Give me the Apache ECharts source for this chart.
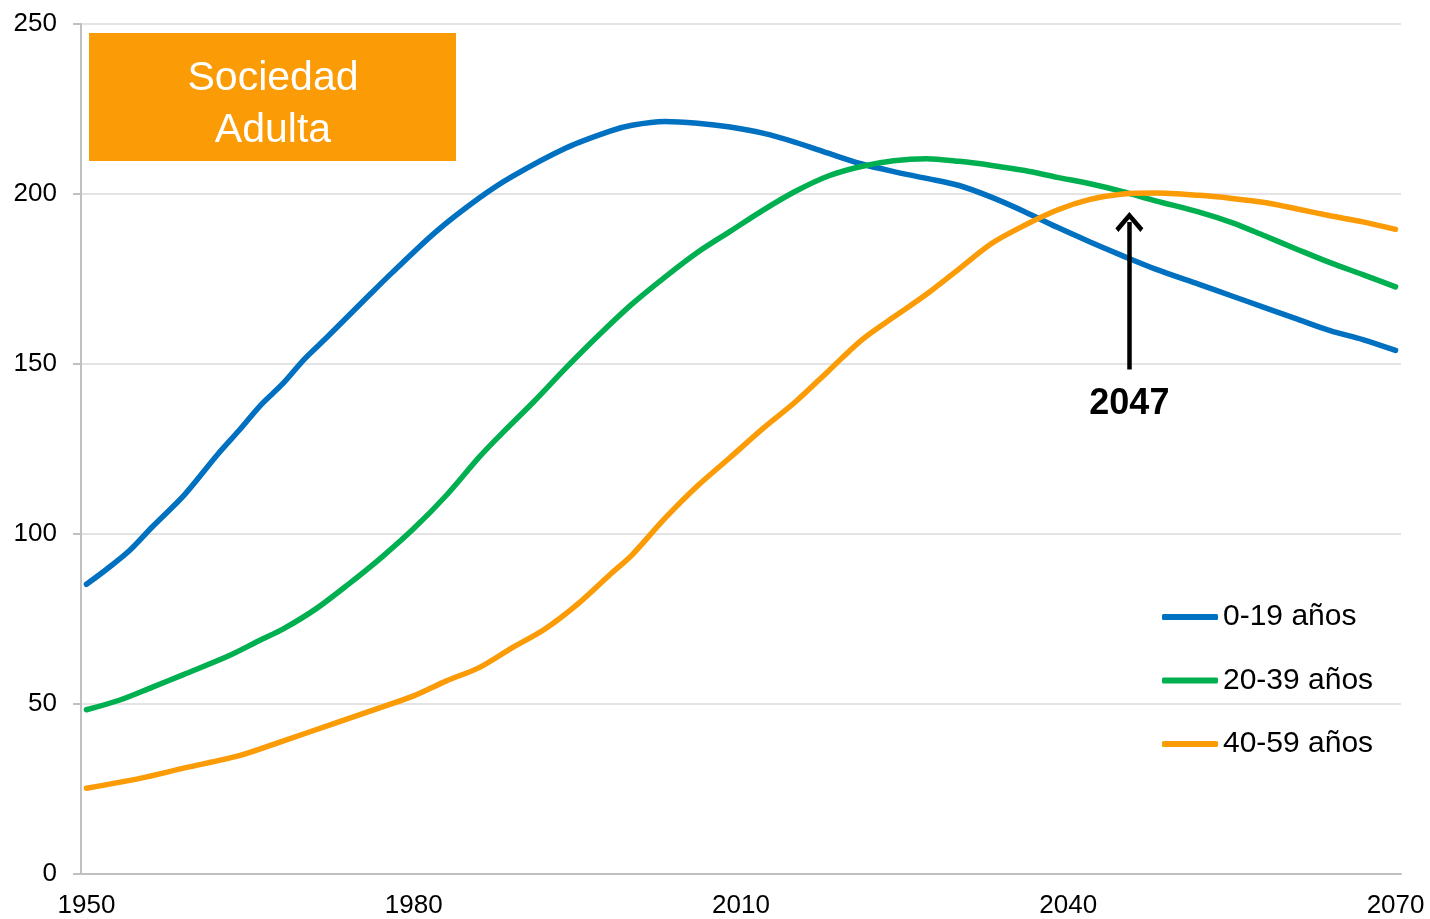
<!DOCTYPE html>
<html>
<head>
<meta charset="utf-8">
<script src="https://cdn.jsdelivr.net/npm/echarts@6/dist/echarts.min.js"></script>
<style>
  html, body { margin: 0; padding: 0; background: #fff; }
  #chart { width: 1430px; height: 919px; }
</style>
</head>
<body>
<div id="chart"></div>
<script>
// 0-19 años
const years0 = [1950, 1952, 1954, 1956, 1959, 1962, 1964, 1966, 1968, 1970, 1972, 1976, 1978, 1982, 1986, 1989, 1994, 1998, 2000, 2003, 2006, 2009, 2012, 2015, 2018, 2021, 2024, 2027, 2030, 2033, 2036, 2039, 2042, 2045, 2048, 2052, 2055, 2058, 2061, 2064, 2067, 2070];
const values0 = [85.2, 90, 95.3, 102, 111.6, 123.3, 130.5, 138, 144.2, 151.5, 157.7, 170.5, 176.8, 188.8, 198.8, 205.1, 213.6, 218.5, 220.2, 221.3, 220.8, 219.7, 217.9, 215.2, 212, 208.9, 206.6, 204.6, 202.5, 199, 194.8, 190.2, 185.9, 181.8, 177.9, 173.4, 170, 166.6, 163.2, 159.8, 157.2, 154];

// 20-39 años
const years20 = [1950, 1953, 1956, 1959, 1963, 1966, 1968, 1971, 1974, 1977, 1980, 1983, 1986, 1988, 1991, 1994, 1997, 2000, 2003, 2006, 2009, 2012, 2015, 2018, 2021, 2024, 2027, 2030, 2033, 2036, 2039, 2042, 2045, 2048, 2052, 2055, 2058, 2061, 2064, 2067, 2070];
const values20 = [48.3, 51.1, 54.9, 58.8, 64.1, 68.9, 72, 77.9, 85.2, 93, 101.6, 111.4, 122.6, 129.3, 138.9, 149, 158.6, 167.6, 175.5, 182.8, 189, 195.2, 200.8, 205.3, 208.1, 209.8, 210.4, 209.6, 208.4, 206.9, 204.9, 203, 200.7, 198, 194.7, 191.6, 187.7, 183.7, 179.8, 176.3, 172.7];

// 40-59 años
const years40 = [1950, 1955, 1959, 1964, 1968, 1973, 1977, 1980, 1983, 1986, 1989, 1992, 1995, 1998, 2000, 2003, 2006, 2009, 2012, 2015, 2018, 2021, 2024, 2027, 2030, 2033, 2036, 2039, 2042, 2045, 2048, 2052, 2055, 2058, 2061, 2064, 2067, 2070];
const values40 = [25.2, 28.2, 31.2, 34.8, 39.1, 44.6, 49, 52.4, 56.8, 60.7, 66.5, 72, 79.3, 88.1, 93.8, 104.5, 114.1, 122.5, 131, 138.9, 147.9, 156.9, 163.8, 170.5, 178, 185.5, 190.8, 195.3, 198.4, 200, 200.3, 199.6, 198.7, 197.5, 195.6, 193.6, 191.8, 189.6];

const seriesNames = ['0-19 años', '20-39 años', '40-59 años'];
const xLabels = [1950, 1980, 2010, 2040, 2070];

// flecha 2047
const arrowLabel = '2047';
const arrowX = 2045.6;
const arrowFrom = 148.4;
const arrowTo = 191.8;

const blue = '#0070C0';
const green = '#00B050';
const orange = '#FB9B06';
const font = 'Liberation Sans, Arial, sans-serif';

const zip = (xs, ys) => xs.map((x, i) => [x, ys[i]]);

const chart = echarts.init(document.getElementById('chart'));

const lineSeries = (name, data, color) => ({
  name,
  type: 'line',
  data,
  smooth: 0.3,
  symbol: 'none',
  lineStyle: { color, width: 5.5, cap: 'round' },
  itemStyle: { color },
  emphasis: { disabled: true },
});

const s40 = lineSeries(seriesNames[2], zip(years40, values40), orange);
s40.markLine = {
  silent: true,
  symbol: ['none', 'path://M0,0 L14,14 L11,17 L0,6 L-11,17 L-14,14 Z'],
  symbolSize: [28, 20],
  lineStyle: { color: '#000', width: 4.5, type: 'solid' },
  label: {
    show: true,
    position: 'start',
    distance: 17,
    formatter: arrowLabel,
    color: '#000',
    fontFamily: font,
    fontWeight: 'bold',
    fontSize: 36,
  },
  data: [[{ coord: [arrowX, arrowFrom] }, { coord: [arrowX, arrowTo] }]],
};

chart.setOption({
  animation: false,
  textStyle: { fontFamily: font },
  grid: { left: 81, right: 29, top: 24, bottom: 44, containLabel: false },
  legend: {
    orient: 'vertical',
    left: 1162,
    top: 602,
    padding: 0,
    itemWidth: 56,
    itemHeight: 6,
    itemGap: 33.5,
    icon: 'roundRect',
    textStyle: { fontFamily: font, fontSize: 30, color: '#000', lineHeight: 30 },
    data: seriesNames,
  },
  xAxis: {
    type: 'value',
    min: 1949.5,
    max: 2070.5,
    axisLine: { show: true, lineStyle: { color: '#c0c0c0', width: 2 } },
    axisTick: { show: false },
    splitLine: { show: false },
    axisLabel: {
      customValues: xLabels,
      formatter: v => String(v),
      color: '#000',
      fontSize: 26,
      fontFamily: font,
      margin: 19,
    },
  },
  yAxis: {
    type: 'value',
    min: 0,
    max: 250,
    interval: 50,
    axisLine: { show: true, lineStyle: { color: '#c0c0c0', width: 2 } },
    axisTick: { show: true, length: 8, lineStyle: { color: '#c0c0c0', width: 2 } },
    splitLine: { show: true, lineStyle: { color: '#e4e4e4', width: 2 } },
    axisLabel: { color: '#000', fontSize: 26, fontFamily: font, margin: 24 },
  },
  graphic: [
    {
      type: 'rect',
      shape: { x: 89, y: 33, width: 367, height: 128 },
      style: { fill: orange },
      z: 10,
    },
    {
      type: 'text',
      x: 273,
      y: 105,
      style: {
        text: 'Sociedad\nAdulta',
        fill: '#fff',
        font: '41px ' + font,
        lineHeight: 52,
        align: 'center',
        verticalAlign: 'middle',
      },
      z: 11,
    },
  ],
  series: [
    lineSeries(seriesNames[0], zip(years0, values0), blue),
    lineSeries(seriesNames[1], zip(years20, values20), green),
    s40,
  ],
});
</script>
</body>
</html>
